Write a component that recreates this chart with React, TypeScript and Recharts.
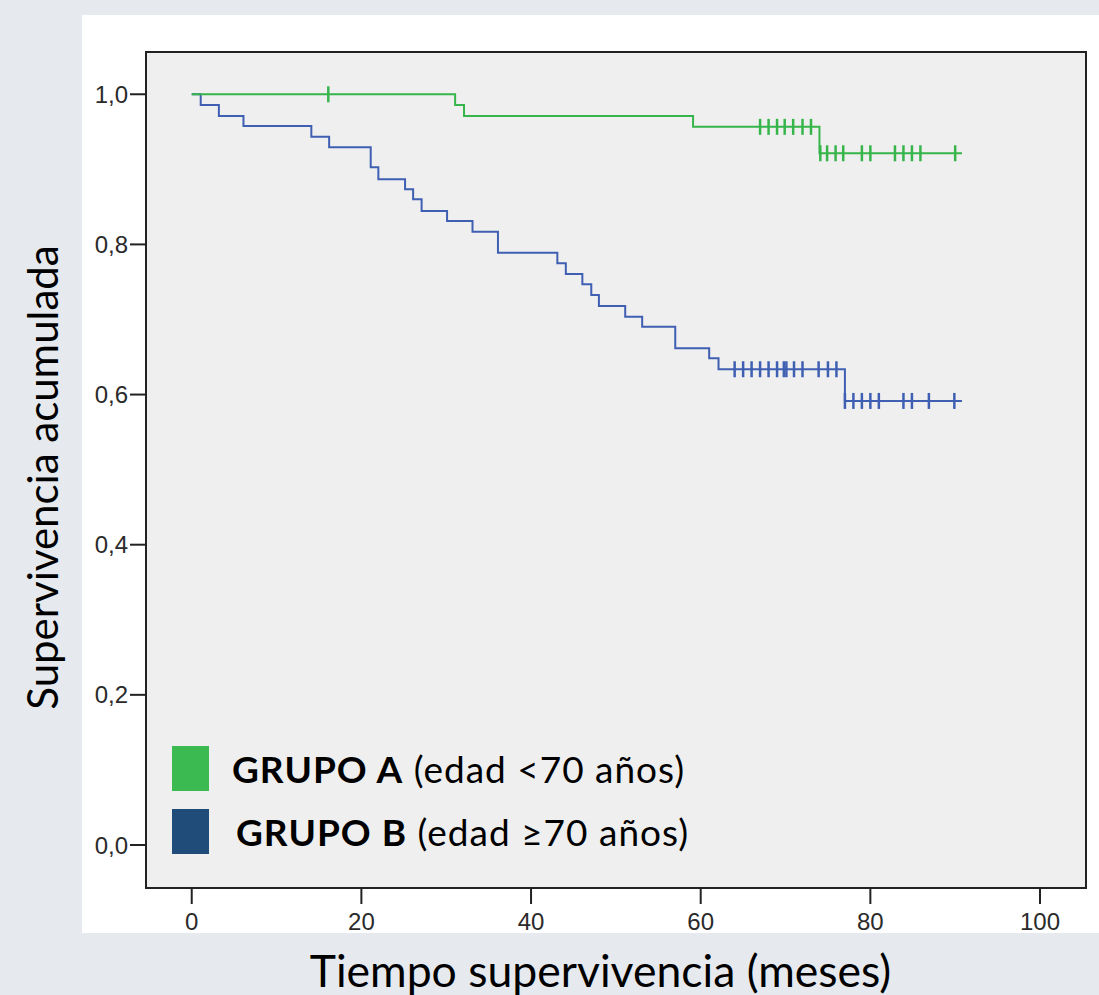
import React from 'react';
import { ComposedChart, Line, Scatter, XAxis, YAxis, ReferenceArea, Legend } from 'recharts';

// Group A (edad <70 años): step times and survival values
const timesA = [0, 31.05, 32.1, 59.1, 74.0, 90.8];
const survA = [1.0, 0.9857, 0.9711, 0.9566, 0.9214, 0.9214];
const censorA = [16.1, 67.0, 68.0, 69.0, 69.9, 70.9, 72.0, 73.0, 74.1, 74.9, 75.9, 76.8, 79.0, 80.0, 82.9, 83.9, 84.9, 85.9, 90.0];

// Group B (edad ≥70 años)
const timesB = [0, 1.06, 3.2, 6.1, 14.1, 16.2, 21.1, 22.0, 25.15, 26.1, 27.1, 30.1, 33.1, 36.1, 43.1, 44.1, 46.05, 47.1, 48.0, 51.1, 53.1, 57.0, 61.0, 62.1, 77.0, 90.8];
const survB = [1.0, 0.9857, 0.9711, 0.9578, 0.9435, 0.9294, 0.9028, 0.8868, 0.8735, 0.8602, 0.8446, 0.8313, 0.817, 0.789, 0.7749, 0.7607, 0.7469, 0.7327, 0.718, 0.7038, 0.6904, 0.6616, 0.6483, 0.6337, 0.5915, 0.5915];
const censorB = [64.0, 65.0, 66.0, 67.0, 68.0, 69.0, 69.8, 70.1, 71.0, 72.0, 73.9, 75.0, 76.0, 77.0, 78.0, 79.0, 80.0, 81.0, 83.9, 84.9, 86.9, 89.9];

const xTicks = [0, 20, 40, 60, 80, 100];
const yTicks = [0, 0.2, 0.4, 0.6, 0.8, 1.0];
const xDomain = [-5.39, 105.42];
const yDomain = [-0.0573, 1.0563];

const legendItems = [
  { bold: 'GRUPO A', rest: ' (edad <70 años)', color: '#3bba52' },
  { bold: 'GRUPO B', rest: ' (edad ≥70 años)', color: '#1f4c78' },
];

const GREEN = '#36b54b';
const BLUE = '#3f5fb3';

const curve = (ts: number[], ss: number[]) => ts.map((t, i) => ({ t, s: ss[i] }));
const stepAt = (ts: number[], ss: number[], t: number) => {
  let v = ss[0];
  for (let i = 0; i < ts.length; i++) if (ts[i] <= t) v = ss[i];
  return v;
};
const censored = (cs: number[], ts: number[], ss: number[]) => cs.map((t) => ({ t, s: stepAt(ts, ss, t) }));

const dataA = curve(timesA, survA);
const dataB = curve(timesB, survB);
const censA = censored(censorA, timesA, survA);
const censB = censored(censorB, timesB, survB);

const tickMark = (color: string) => (props: any) => {
  const { cx, cy } = props;
  return <line x1={cx} x2={cx} y1={cy - 8} y2={cy + 8} stroke={color} strokeWidth={2.5} />;
};

const renderLegend = () => (
  <div style={{ position: 'relative', width: 620, height: 120 }}>
    {legendItems.map((it, i) => (
      <div key={it.bold} style={{ position: 'absolute', left: 0, top: i === 0 ? 0 : 63, height: 45, display: 'flex', alignItems: 'center' }}>
        <div style={{ width: 37, height: 45, background: it.color }} />
        <div style={{ marginLeft: i === 0 ? 23 : 27, fontFamily: 'Lato', fontSize: 37, letterSpacing: 1, color: '#000', whiteSpace: 'nowrap', lineHeight: 'normal' }}>
          <span style={{ fontWeight: 700 }}>{it.bold}</span>
          <span>{it.rest}</span>
        </div>
      </div>
    ))}
  </div>
);

const tickStyle = { fontFamily: 'Liberation Sans', fontSize: 24, fill: '#2a2a2a' };

export default function App() {
  return (
    <div style={{ position: 'absolute', left: 0, top: 0, width: 1099, height: 995, background: '#e6eaef', overflow: 'hidden' }}>
      <div style={{ position: 'absolute', left: 82, top: 15, width: 1017, height: 918, background: '#ffffff' }} />
      <div style={{ position: 'absolute', left: 0, top: 0 }}>
        <ComposedChart width={1099} height={995} margin={{ top: 52, right: 13, bottom: 67, left: 82 }}>
          <XAxis
            type="number"
            dataKey="t"
            domain={xDomain}
            allowDataOverflow
            ticks={xTicks}
            height={40}
            tickSize={16}
            tickMargin={9}
            tick={tickStyle}
            axisLine={{ stroke: '#222', strokeWidth: 2 }}
            tickLine={{ stroke: '#222', strokeWidth: 2 }}
          />
          <YAxis
            type="number"
            dataKey="s"
            domain={yDomain}
            allowDataOverflow
            ticks={yTicks}
            width={64}
            tickSize={16}
            tickMargin={2}
            tick={tickStyle}
            tickFormatter={(v: number) => v.toFixed(1).replace('.', ',')}
            axisLine={{ stroke: '#222', strokeWidth: 2 }}
            tickLine={{ stroke: '#222', strokeWidth: 2 }}
          />
          <ReferenceArea x1={xDomain[0]} x2={xDomain[1]} y1={yDomain[0]} y2={yDomain[1]} fill="#efefef" fillOpacity={1} stroke="#222" strokeWidth={2} />
          <Line data={dataB} dataKey="s" type="stepAfter" stroke={BLUE} strokeWidth={2} dot={false} isAnimationActive={false} />
          <Line data={dataA} dataKey="s" type="stepAfter" stroke={GREEN} strokeWidth={2} dot={false} isAnimationActive={false} />
          <Scatter data={censB} dataKey="s" shape={tickMark(BLUE)} isAnimationActive={false} />
          <Scatter data={censA} dataKey="s" shape={tickMark(GREEN)} isAnimationActive={false} />
          <Legend
            layout="vertical"
            align="center"
            verticalAlign="middle"
            content={renderLegend}
            wrapperStyle={{ position: 'absolute', left: 172, top: 746, width: 620, height: 120 }}
          />
        </ComposedChart>
      </div>
      <svg width={1099} height={995} style={{ position: 'absolute', left: 0, top: 0, pointerEvents: 'none' }}>
        <text transform="translate(58,477.5) rotate(-90)" textAnchor="middle" fontFamily="Lato" fontSize={42} fill="#000">
          Supervivencia acumulada
        </text>
        <text x={600.5} y={986.7} textAnchor="middle" fontFamily="Lato" fontSize={44.5} fill="#000">
          Tiempo supervivencia (meses)
        </text>
      </svg>
    </div>
  );
}
